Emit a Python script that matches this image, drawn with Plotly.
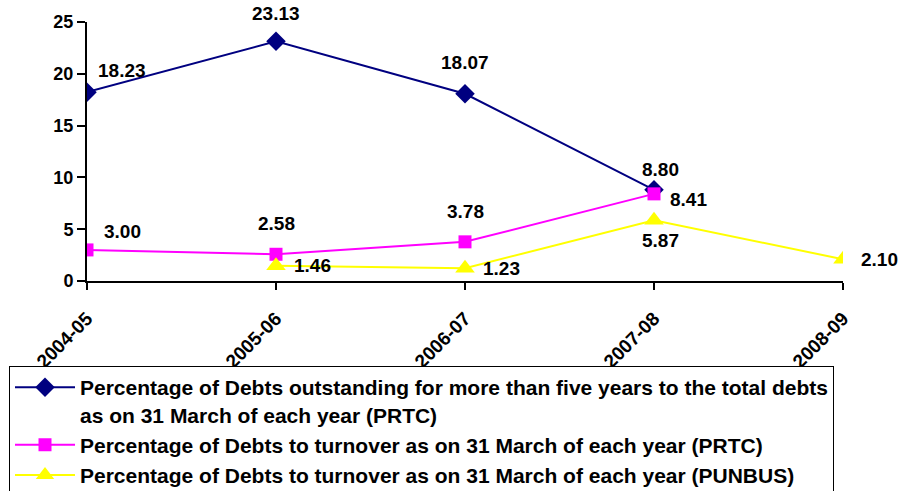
import plotly.graph_objects as go

years = ["2004-05", "2005-06", "2006-07", "2007-08", "2008-09"]
debts_over_5y_prtc = [18.23, 23.13, 18.07, 8.80, None]
debts_turnover_prtc = [3.00, 2.58, 3.78, 8.41, None]
debts_turnover_punbus = [None, 1.46, 1.23, 5.87, 2.10]
y_ticks = [0, 5, 10, 15, 20, 25]

names = [
    "Percentage of Debts outstanding for more than five years to the total debts<br>as on 31 March of each year (PRTC)",
    "Percentage of Debts to turnover as on 31 March of each year (PRTC)",
    "Percentage of Debts to turnover as on 31 March of each year (PUNBUS)",
]

FONT = "Arial, 'Liberation Sans', sans-serif"

fig = go.Figure()
fig.add_trace(go.Scatter(x=years, y=debts_over_5y_prtc, name=names[0], mode="lines+markers",
                         line=dict(color="#000080", width=2),
                         marker=dict(symbol="diamond", size=15, color="#000080"),
                         legendgroup="a"))
fig.add_trace(go.Scatter(x=years, y=debts_turnover_prtc, name=names[1], mode="lines+markers",
                         line=dict(color="#FF00FF", width=2),
                         marker=dict(symbol="square", size=13, color="#FF00FF"),
                         legendgroup="a"))
fig.add_trace(go.Scatter(x=years, y=debts_turnover_punbus, name=names[2], mode="lines+markers",
                         line=dict(color="#FFFF00", width=2),
                         marker=dict(symbol="triangle-up", size=17, color="#FFFF00"),
                         legendgroup="b"))

# label placement style per point: (xanchor, xshift, yshift)
label_style = [
    [("left", 9, 22), ("center", 0, 28), ("center", 0, 31), ("center", 6, 20), None],
    [("left", 15, 18), ("center", 0, 31), ("center", 0, 30), ("left", 14, -6), None],
    [None, ("left", 16, 0), ("left", 16, 0), ("center", 6, -20), ("left", 16, 0)],
]
series = [debts_over_5y_prtc, debts_turnover_prtc, debts_turnover_punbus]
for vals, styles in zip(series, label_style):
    for xv, v, st in zip(years, vals, styles):
        if v is None or st is None:
            continue
        xa, xs, ys = st
        fig.add_annotation(x=xv, y=v, text=f"{v:.2f}", showarrow=False,
                           xanchor=xa, yanchor="middle", xshift=xs, yshift=ys,
                           font=dict(family=FONT, size=19, color="black", weight="bold"))

fig.update_layout(
    width=898, height=491,
    margin=dict(l=87, r=55, t=22, b=210, autoexpand=False),
    paper_bgcolor="white", plot_bgcolor="white",
    font=dict(family=FONT, color="black"),
    showlegend=True,
    legend=dict(
        xref="container", yref="container",
        x=9 / 898, y=1 - 366 / 491, xanchor="left", yanchor="top",
        bordercolor="black", borderwidth=1, bgcolor="white",
        font=dict(family=FONT, size=21, color="black", weight="bold"),
        traceorder="grouped", tracegroupgap=0, valign="top",
        itemwidth=60,
    ),
)
fig.update_xaxes(
    type="category", range=[0, 4], showgrid=False,
    showline=True, linecolor="black", linewidth=2,
    ticks="outside", ticklen=7, tickwidth=2, tickcolor="black",
    tickangle=-45, ticklabelstandoff=10,
    tickfont=dict(family=FONT, size=19, color="black", weight="bold"),
)
fig.update_yaxes(
    range=[0, 25], tickvals=y_ticks, showgrid=False, zeroline=False,
    showline=True, linecolor="black", linewidth=2,
    ticks="outside", ticklen=8, tickwidth=2, tickcolor="black",
    tickfont=dict(family=FONT, size=18, color="black", weight="bold"),
)

fig.write_html("out.html", config={"displayModeBar": False},
               post_script="document.body.style.margin='0';")
